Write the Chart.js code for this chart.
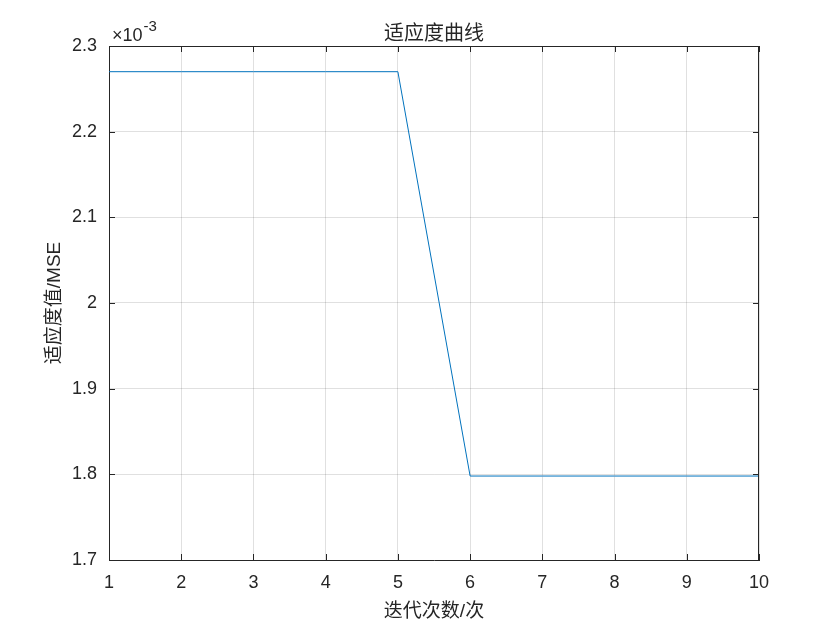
<!DOCTYPE html>
<html>
<head>
<meta charset="utf-8">
<script src="https://cdn.jsdelivr.net/npm/chart.js@4.4.1/dist/chart.umd.min.js"></script>
<style>
  html, body { margin: 0; padding: 0; background: #fff; }
</style>
</head>
<body>
<canvas id="fitChart" width="840" height="630"></canvas>
<script>
// iteration number and fitness (MSE) per iteration
const iterations = [1, 2, 3, 4, 5, 6, 7, 8, 9, 10];
const fitness = [0.00227, 0.00227, 0.00227, 0.00227, 0.00227,
                 0.001798, 0.001798, 0.001798, 0.001798, 0.001798];
const yTicks = [0.0017, 0.0018, 0.0019, 0.0020, 0.0021, 0.0022, 0.0023];

const FONT = 'Arial, "Liberation Sans", "Noto Sans CJK SC", sans-serif';
const TXT = '#262626';

// box + inward ticks + exponent label, MATLAB style
const boxPlugin = {
  id: 'box',
  afterDraw(chart) {
    const { ctx, chartArea: a, scales } = chart;
    ctx.save();
    ctx.strokeStyle = TXT;
    ctx.lineWidth = 1;
    ctx.beginPath();
    ctx.moveTo(a.left, a.top + 0.5); ctx.lineTo(a.right, a.top + 0.5);
    ctx.moveTo(a.right - 0.5, a.top); ctx.lineTo(a.right - 0.5, a.bottom);
    scales.x.ticks.forEach(t => {
      const px = Math.round(scales.x.getPixelForValue(t.value)) + 0.5;
      ctx.moveTo(px, a.bottom); ctx.lineTo(px, a.bottom - 6);
      ctx.moveTo(px, a.top); ctx.lineTo(px, a.top + 6);
    });
    scales.y.ticks.forEach(t => {
      const py = Math.round(scales.y.getPixelForValue(t.value)) + 0.5;
      ctx.moveTo(a.left, py); ctx.lineTo(a.left + 6, py);
      ctx.moveTo(a.right, py); ctx.lineTo(a.right - 6, py);
    });
    ctx.stroke();

    ctx.fillStyle = TXT;
    ctx.textBaseline = 'alphabetic';
    ctx.textAlign = 'left';
    ctx.font = '18px ' + FONT;
    ctx.fillText('\u00d710', a.left + 3, a.top - 5);
    const w = ctx.measureText('\u00d710').width;
    ctx.font = '15px ' + FONT;
    ctx.fillText('-3', a.left + 3 + w + 1, a.top - 15);
    ctx.restore();
  }
};

new Chart(document.getElementById('fitChart').getContext('2d'), {
  type: 'line',
  data: {
    datasets: [{
      data: iterations.map((x, i) => ({ x: x, y: fitness[i] })),
      borderColor: '#0072BD',
      borderWidth: 1,
      pointRadius: 0,
      tension: 0,
      fill: false
    }]
  },
  options: {
    responsive: false,
    animation: false,
    layout: { padding: { left: 0, right: 81, top: 0, bottom: 0 } },
    plugins: {
      legend: { display: false },
      tooltip: { enabled: false },
      title: {
        display: true,
        fullSize: false,
        text: '适应度曲线',
        color: TXT,
        font: { family: FONT, size: 20, weight: 'normal', lineHeight: 1.2 },
        padding: { top: 22.5, bottom: -0.5 }
      }
    },
    scales: {
      x: {
        type: 'linear',
        min: 1,
        max: 10,
        afterFit(s) { s.height = 70; },
        afterBuildTicks(s) { s.ticks = iterations.map(v => ({ value: v })); },
        ticks: {
          color: TXT,
          font: { family: FONT, size: 18 },
          padding: 12,
          maxRotation: 0
        },
        grid: { color: 'rgba(0,0,0,0.12)', drawTicks: false },
        border: { color: TXT },
        title: {
          display: true,
          text: '迭代次数/次',
          color: TXT,
          font: { family: FONT, size: 19 },
          padding: { top: 6.6, bottom: 6.6 }
        }
      },
      y: {
        min: 0.0017,
        max: 0.0023,
        afterFit(s) { s.width = 109; },
        afterBuildTicks(s) { s.ticks = yTicks.map(v => ({ value: v })); },
        ticks: {
          color: TXT,
          font: { family: FONT, size: 18 },
          padding: 12,
          callback: v => String(parseFloat((v * 1000).toFixed(1)))
        },
        grid: { color: 'rgba(0,0,0,0.12)', drawTicks: false },
        border: { color: TXT },
        title: {
          display: true,
          text: '适应度值/MSE',
          color: TXT,
          font: { family: FONT, size: 19 },
          padding: { top: 43.6, bottom: 43.6 }
        }
      }
    }
  },
  plugins: [boxPlugin]
});
</script>
</body>
</html>
